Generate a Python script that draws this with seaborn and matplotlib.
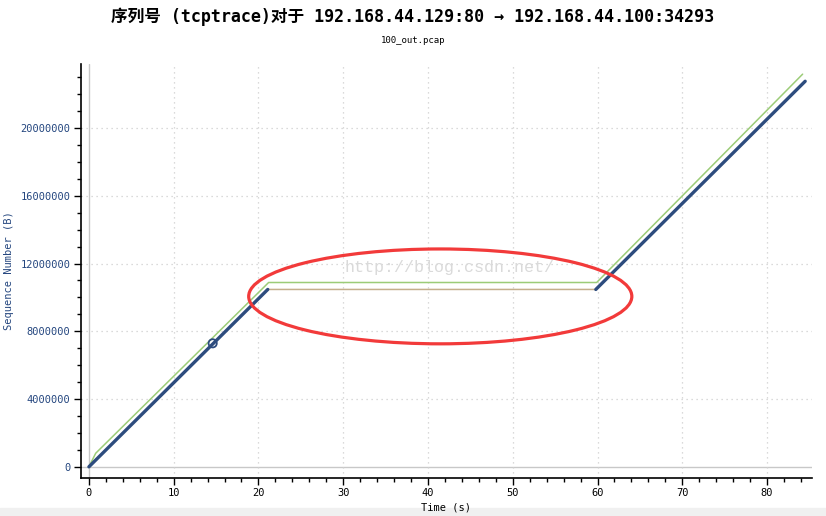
import pandas as pd
import numpy as np
import seaborn as sns
import matplotlib.pyplot as plt
from matplotlib.patches import Ellipse, Rectangle
from matplotlib.ticker import MultipleLocator

# data segments (time in s, sequence number in bytes)
seg1_time = [0.0, 21.1]
seg1_seq = [0, 10470000]
seg2_time = [59.8, 84.5]
seg2_seq = [10470000, 22760000]
ack_time = [0.0, 21.1, 59.8, 84.5]
ack_seq = [0, 10470000, 10470000, 22760000]
win_time = [0.0, 0.8, 21.2, 59.9, 84.2]
win_seq = [0, 800000, 10880000, 10880000, 23180000]
sack_time = [14.6]
sack_seq = [7290000]

xticks = [0, 10, 20, 30, 40, 50, 60, 70, 80]
yticks = [0, 4000000, 8000000, 12000000, 16000000, 20000000]

title = "序列号 (tcptrace)对于 192.168.44.129:80 → 192.168.44.100:34293"
subtitle = "100_out.pcap"

sns.set_style("ticks")
plt.rcParams['font.family'] = ['DejaVu Sans Mono', 'Noto Sans CJK SC']
plt.rcParams['text.color'] = 'black'
plt.rcParams['axes.labelcolor'] = 'black'
plt.rcParams['xtick.color'] = 'black'
plt.rcParams['ytick.color'] = 'black'

blue = '#2d4c7e'
green = '#9ccc78'
tan = '#c4ae8c'
label_blue = '#24467f'

fig = plt.figure(figsize=(8.26, 5.16), dpi=100)
ax = fig.add_axes([0.098, 0.074, 0.885, 0.802])

# zero lines and grid
ax.axhline(0, color='#c8c8c8', lw=1, zorder=0)
ax.axvline(0, color='#c8c8c8', lw=1, zorder=0)
for t in xticks[1:]:
    ax.axvline(t, color='#cfcfcf', lw=0.9, ls=(0, (1, 3)), zorder=0)
for s in yticks[1:]:
    ax.axhline(s, color='#cfcfcf', lw=0.9, ls=(0, (1, 3)), zorder=0)

ack = pd.DataFrame({'time': ack_time, 'seq': ack_seq})
win = pd.DataFrame({'time': win_time, 'seq': win_seq})
sns.lineplot(data=ack, x='time', y='seq', color=tan, lw=1.1, estimator=None, sort=False, ax=ax)
sns.lineplot(data=win, x='time', y='seq', color=green, lw=1.1, estimator=None, sort=False, ax=ax)
for t, s in [(seg1_time, seg1_seq), (seg2_time, seg2_seq)]:
    seg = pd.DataFrame({'time': t, 'seq': s})
    sns.lineplot(data=seg, x='time', y='seq', color=blue, lw=2.4, estimator=None, sort=False, ax=ax)
sns.scatterplot(x=sack_time, y=sack_seq, s=35, facecolor='none', edgecolor=blue, linewidth=1.3, ax=ax, zorder=5)

# annotation ellipse and watermark
ax.add_patch(Ellipse((41.45, 10060000), 45.2, 5600000, fill=False, ec='#f23a3a', lw=2.3, zorder=6))
ax.text(42.5, 11750000, "http://blog.csdn.net/", family='Liberation Mono', fontsize=12,
        color='#dadada', ha='center', va='center', zorder=1)

ax.set_xlim(-0.94, 85.3)
ax.set_ylim(-650000, 23780000)
ax.set_xticks(xticks)
ax.set_yticks(yticks)
ax.set_yticklabels([str(v) for v in yticks])
ax.xaxis.set_minor_locator(MultipleLocator(2))
ax.yaxis.set_minor_locator(MultipleLocator(1000000))
ax.tick_params(which='major', length=5, width=1, labelsize=7.5, color='black', pad=2.5)
ax.tick_params(which='minor', length=3, width=1, color='black')
ax.tick_params(axis='y', labelcolor=label_blue)
ax.set_xlabel("Time (s)", fontsize=7.5, labelpad=3)
ax.set_ylabel("Sequence Number (B)", fontsize=7.5, color=label_blue)
ax.yaxis.set_label_coords(-0.092, 0.5)
sns.despine(ax=ax)
for sp in ['left', 'bottom']:
    ax.spines[sp].set_linewidth(1.2)
    ax.spines[sp].set_color('black')

fig.text(0.5, 0.968, title, ha='center', va='center', fontsize=12, fontweight='bold')
fig.text(0.5, 0.922, subtitle, ha='center', va='center', fontsize=6.5)
fig.patches.append(Rectangle((0, 0), 1, 0.016, transform=fig.transFigure, color='#f0f0f0', zorder=-1))

plt.savefig("out.png", dpi=100)
plt.close()
